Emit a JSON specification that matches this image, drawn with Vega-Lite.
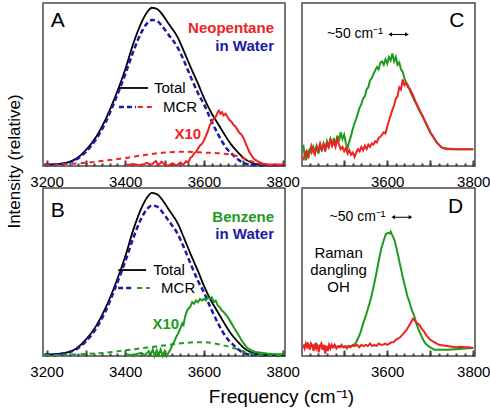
{
"$schema":"https://vega.github.io/schema/vega-lite/v6.json",
"padding":{"left":4,"top":2,"right":0,"bottom":0},
"background":"white",
"bounds":"flush",
"columns":2,
"spacing":{"row":22,"column":17},
"config":{"view":{"stroke":"#4a4a4a","strokeWidth":1.5},"font":"Liberation Sans","axis":{"labelFont":"Liberation Sans","titleFont":"Liberation Sans","grid":false,"domain":false,"ticks":true},"text":{"font":"Liberation Sans"}},
"datasets":{
"W":[
{"x":3195,"s":"t","y":0.01},{"x":3225,"s":"t","y":0.012},{"x":3250,"s":"t","y":0.02},{"x":3275,"s":"t","y":0.045},{"x":3300,"s":"t","y":0.1},{"x":3325,"s":"t","y":0.18},{"x":3350,"s":"t","y":0.295},{"x":3375,"s":"t","y":0.44},{"x":3400,"s":"t","y":0.61},{"x":3420,"s":"t","y":0.77},{"x":3440,"s":"t","y":0.9},{"x":3455,"s":"t","y":0.97},{"x":3468,"s":"t","y":1.0},{"x":3482,"s":"t","y":0.99},{"x":3495,"s":"t","y":0.955},{"x":3510,"s":"t","y":0.9},{"x":3534,"s":"t","y":0.81},{"x":3550,"s":"t","y":0.72},{"x":3567,"s":"t","y":0.62},{"x":3585,"s":"t","y":0.52},{"x":3600,"s":"t","y":0.43},{"x":3618,"s":"t","y":0.34},{"x":3635,"s":"t","y":0.27},{"x":3652,"s":"t","y":0.2},{"x":3668,"s":"t","y":0.14},{"x":3685,"s":"t","y":0.09},{"x":3701,"s":"t","y":0.05},{"x":3720,"s":"t","y":0.022},{"x":3740,"s":"t","y":0.01},{"x":3770,"s":"t","y":0.006},{"x":3805,"s":"t","y":0.005},
{"x":3195,"s":"m","y":0.008},{"x":3225,"s":"m","y":0.01},{"x":3250,"s":"m","y":0.018},{"x":3275,"s":"m","y":0.04},{"x":3300,"s":"m","y":0.09},{"x":3325,"s":"m","y":0.165},{"x":3350,"s":"m","y":0.275},{"x":3375,"s":"m","y":0.42},{"x":3400,"s":"m","y":0.58},{"x":3420,"s":"m","y":0.72},{"x":3440,"s":"m","y":0.84},{"x":3455,"s":"m","y":0.9},{"x":3468,"s":"m","y":0.923},{"x":3482,"s":"m","y":0.915},{"x":3495,"s":"m","y":0.88},{"x":3510,"s":"m","y":0.83},{"x":3534,"s":"m","y":0.745},{"x":3550,"s":"m","y":0.66},{"x":3567,"s":"m","y":0.56},{"x":3585,"s":"m","y":0.46},{"x":3600,"s":"m","y":0.39},{"x":3618,"s":"m","y":0.29},{"x":3636,"s":"m","y":0.2},{"x":3655,"s":"m","y":0.12},{"x":3676,"s":"m","y":0.065},{"x":3700,"s":"m","y":0.02},{"x":3720,"s":"m","y":0.008},{"x":3750,"s":"m","y":0.003},{"x":3805,"s":"m","y":0.003}
],
"A":[
{"x":3195,"s":"c","y":0.008},{"x":3250,"s":"c","y":0.012},{"x":3300,"s":"c","y":0.02},{"x":3350,"s":"c","y":0.035},{"x":3400,"s":"c","y":0.05},{"x":3450,"s":"c","y":0.07},{"x":3500,"s":"c","y":0.085},{"x":3550,"s":"c","y":0.09},{"x":3600,"s":"c","y":0.085},{"x":3650,"s":"c","y":0.078},{"x":3680,"s":"c","y":0.065},{"x":3700,"s":"c","y":0.05},{"x":3720,"s":"c","y":0.03},{"x":3740,"s":"c","y":0.015},{"x":3760,"s":"c","y":0.006},{"x":3805,"s":"c","y":0.002},
{"x":3400,"s":"x","y":0.005},{"x":3420,"s":"x","y":0.012},{"x":3440,"s":"x","y":0.003},{"x":3455,"s":"x","y":0.02},{"x":3465,"s":"x","y":0.006},{"x":3478,"s":"x","y":0.032},{"x":3484,"s":"x","y":0.004},{"x":3492,"s":"x","y":0.028},{"x":3500,"s":"x","y":0.01},{"x":3510,"s":"x","y":0.002},{"x":3520,"s":"x","y":0.018},{"x":3530,"s":"x","y":0.003},{"x":3540,"s":"x","y":0.022},{"x":3548,"s":"x","y":0.008},{"x":3555,"s":"x","y":0.03},{"x":3560,"s":"x","y":0.02},{"x":3565,"s":"x","y":0.05},{"x":3570,"s":"x","y":0.06},{"x":3575,"s":"x","y":0.08},{"x":3580,"s":"x","y":0.09},{"x":3585,"s":"x","y":0.11},{"x":3590,"s":"x","y":0.13},{"x":3595,"s":"x","y":0.14},{"x":3600,"s":"x","y":0.16},{"x":3605,"s":"x","y":0.19},{"x":3610,"s":"x","y":0.22},{"x":3615,"s":"x","y":0.26},{"x":3620,"s":"x","y":0.28},{"x":3625,"s":"x","y":0.3},{"x":3630,"s":"x","y":0.31},{"x":3635,"s":"x","y":0.34},{"x":3638,"s":"x","y":0.35},{"x":3642,"s":"x","y":0.33},{"x":3646,"s":"x","y":0.34},{"x":3650,"s":"x","y":0.32},{"x":3655,"s":"x","y":0.33},{"x":3660,"s":"x","y":0.31},{"x":3665,"s":"x","y":0.29},{"x":3670,"s":"x","y":0.28},{"x":3675,"s":"x","y":0.26},{"x":3680,"s":"x","y":0.25},{"x":3685,"s":"x","y":0.23},{"x":3690,"s":"x","y":0.21},{"x":3695,"s":"x","y":0.2},{"x":3700,"s":"x","y":0.18},{"x":3705,"s":"x","y":0.15},{"x":3710,"s":"x","y":0.12},{"x":3715,"s":"x","y":0.09},{"x":3720,"s":"x","y":0.07},{"x":3725,"s":"x","y":0.05},{"x":3730,"s":"x","y":0.04},{"x":3740,"s":"x","y":0.025},{"x":3750,"s":"x","y":0.015},{"x":3760,"s":"x","y":0.01},{"x":3780,"s":"x","y":0.01},{"x":3805,"s":"x","y":0.01}
],
"B":[
{"x":3195,"s":"c","y":0.005},{"x":3250,"s":"c","y":0.008},{"x":3300,"s":"c","y":0.012},{"x":3350,"s":"c","y":0.02},{"x":3400,"s":"c","y":0.035},{"x":3450,"s":"c","y":0.05},{"x":3500,"s":"c","y":0.065},{"x":3550,"s":"c","y":0.08},{"x":3590,"s":"c","y":0.085},{"x":3620,"s":"c","y":0.08},{"x":3650,"s":"c","y":0.065},{"x":3680,"s":"c","y":0.045},{"x":3710,"s":"c","y":0.02},{"x":3740,"s":"c","y":0.008},{"x":3805,"s":"c","y":0.002},
{"x":3400,"s":"x","y":0.01},{"x":3420,"s":"x","y":0.005},{"x":3440,"s":"x","y":0.02},{"x":3450,"s":"x","y":0.005},{"x":3460,"s":"x","y":0.03},{"x":3465,"s":"x","y":0.01},{"x":3470,"s":"x","y":0.04},{"x":3475,"s":"x","y":0.0},{"x":3480,"s":"x","y":0.035},{"x":3485,"s":"x","y":0.005},{"x":3490,"s":"x","y":0.04},{"x":3495,"s":"x","y":0.0},{"x":3500,"s":"x","y":0.03},{"x":3505,"s":"x","y":0.0},{"x":3510,"s":"x","y":0.02},{"x":3515,"s":"x","y":0.04},{"x":3520,"s":"x","y":0.07},{"x":3525,"s":"x","y":0.09},{"x":3530,"s":"x","y":0.12},{"x":3535,"s":"x","y":0.14},{"x":3540,"s":"x","y":0.17},{"x":3545,"s":"x","y":0.2},{"x":3548,"s":"x","y":0.19},{"x":3552,"s":"x","y":0.24},{"x":3556,"s":"x","y":0.27},{"x":3560,"s":"x","y":0.29},{"x":3565,"s":"x","y":0.3},{"x":3570,"s":"x","y":0.33},{"x":3575,"s":"x","y":0.32},{"x":3580,"s":"x","y":0.34},{"x":3585,"s":"x","y":0.33},{"x":3590,"s":"x","y":0.35},{"x":3595,"s":"x","y":0.34},{"x":3600,"s":"x","y":0.35},{"x":3605,"s":"x","y":0.34},{"x":3610,"s":"x","y":0.36},{"x":3615,"s":"x","y":0.35},{"x":3620,"s":"x","y":0.36},{"x":3625,"s":"x","y":0.33},{"x":3630,"s":"x","y":0.34},{"x":3635,"s":"x","y":0.31},{"x":3640,"s":"x","y":0.3},{"x":3645,"s":"x","y":0.28},{"x":3650,"s":"x","y":0.27},{"x":3660,"s":"x","y":0.24},{"x":3670,"s":"x","y":0.2},{"x":3680,"s":"x","y":0.16},{"x":3690,"s":"x","y":0.12},{"x":3700,"s":"x","y":0.08},{"x":3710,"s":"x","y":0.05},{"x":3720,"s":"x","y":0.035},{"x":3730,"s":"x","y":0.025},{"x":3745,"s":"x","y":0.02},{"x":3760,"s":"x","y":0.015},{"x":3780,"s":"x","y":0.01},{"x":3805,"s":"x","y":0.01}
],
"C":[
{"x":3405,"s":"g","y":0.19},{"x":3408,"s":"g","y":0.1},{"x":3411,"s":"g","y":0.05},{"x":3414,"s":"g","y":0.14},{"x":3417,"s":"g","y":0.07},{"x":3420,"s":"g","y":0.16},{"x":3424,"s":"g","y":0.12},{"x":3428,"s":"g","y":0.17},{"x":3432,"s":"g","y":0.13},{"x":3436,"s":"g","y":0.18},{"x":3440,"s":"g","y":0.11},{"x":3444,"s":"g","y":0.17},{"x":3448,"s":"g","y":0.14},{"x":3452,"s":"g","y":0.2},{"x":3456,"s":"g","y":0.15},{"x":3460,"s":"g","y":0.22},{"x":3464,"s":"g","y":0.17},{"x":3468,"s":"g","y":0.24},{"x":3472,"s":"g","y":0.19},{"x":3476,"s":"g","y":0.25},{"x":3480,"s":"g","y":0.18},{"x":3484,"s":"g","y":0.27},{"x":3488,"s":"g","y":0.22},{"x":3492,"s":"g","y":0.3},{"x":3496,"s":"g","y":0.24},{"x":3500,"s":"g","y":0.28},{"x":3504,"s":"g","y":0.2},{"x":3508,"s":"g","y":0.16},{"x":3512,"s":"g","y":0.22},{"x":3516,"s":"g","y":0.27},{"x":3520,"s":"g","y":0.33},{"x":3524,"s":"g","y":0.38},{"x":3528,"s":"g","y":0.42},{"x":3532,"s":"g","y":0.47},{"x":3536,"s":"g","y":0.52},{"x":3540,"s":"g","y":0.55},{"x":3544,"s":"g","y":0.6},{"x":3548,"s":"g","y":0.62},{"x":3552,"s":"g","y":0.68},{"x":3556,"s":"g","y":0.7},{"x":3560,"s":"g","y":0.76},{"x":3564,"s":"g","y":0.78},{"x":3568,"s":"g","y":0.82},{"x":3572,"s":"g","y":0.85},{"x":3576,"s":"g","y":0.88},{"x":3580,"s":"g","y":0.86},{"x":3584,"s":"g","y":0.92},{"x":3588,"s":"g","y":0.93},{"x":3592,"s":"g","y":0.9},{"x":3596,"s":"g","y":0.95},{"x":3600,"s":"g","y":0.91},{"x":3604,"s":"g","y":0.97},{"x":3608,"s":"g","y":0.94},{"x":3612,"s":"g","y":1.0},{"x":3616,"s":"g","y":0.93},{"x":3620,"s":"g","y":0.97},{"x":3624,"s":"g","y":0.9},{"x":3628,"s":"g","y":0.92},{"x":3632,"s":"g","y":0.86},{"x":3636,"s":"g","y":0.84},{"x":3640,"s":"g","y":0.78},{"x":3644,"s":"g","y":0.74},{"x":3648,"s":"g","y":0.72},{"x":3652,"s":"g","y":0.68},{"x":3656,"s":"g","y":0.64},{"x":3660,"s":"g","y":0.61},{"x":3665,"s":"g","y":0.57},{"x":3670,"s":"g","y":0.53},{"x":3675,"s":"g","y":0.49},{"x":3680,"s":"g","y":0.46},{"x":3685,"s":"g","y":0.42},{"x":3690,"s":"g","y":0.38},{"x":3695,"s":"g","y":0.34},{"x":3700,"s":"g","y":0.3},{"x":3705,"s":"g","y":0.27},{"x":3710,"s":"g","y":0.24},{"x":3715,"s":"g","y":0.21},{"x":3720,"s":"g","y":0.19},{"x":3725,"s":"g","y":0.17},{"x":3730,"s":"g","y":0.16},{"x":3740,"s":"g","y":0.155},{"x":3760,"s":"g","y":0.15},{"x":3780,"s":"g","y":0.15},{"x":3800,"s":"g","y":0.15},
{"x":3405,"s":"r","y":0.05},{"x":3408,"s":"r","y":0.09},{"x":3412,"s":"r","y":0.13},{"x":3416,"s":"r","y":0.08},{"x":3420,"s":"r","y":0.12},{"x":3424,"s":"r","y":0.18},{"x":3428,"s":"r","y":0.13},{"x":3432,"s":"r","y":0.1},{"x":3436,"s":"r","y":0.17},{"x":3440,"s":"r","y":0.14},{"x":3444,"s":"r","y":0.2},{"x":3448,"s":"r","y":0.15},{"x":3452,"s":"r","y":0.19},{"x":3456,"s":"r","y":0.13},{"x":3460,"s":"r","y":0.21},{"x":3464,"s":"r","y":0.16},{"x":3468,"s":"r","y":0.24},{"x":3472,"s":"r","y":0.18},{"x":3476,"s":"r","y":0.22},{"x":3480,"s":"r","y":0.17},{"x":3484,"s":"r","y":0.24},{"x":3488,"s":"r","y":0.19},{"x":3492,"s":"r","y":0.15},{"x":3496,"s":"r","y":0.17},{"x":3500,"s":"r","y":0.13},{"x":3504,"s":"r","y":0.16},{"x":3508,"s":"r","y":0.11},{"x":3512,"s":"r","y":0.14},{"x":3516,"s":"r","y":0.1},{"x":3520,"s":"r","y":0.12},{"x":3524,"s":"r","y":0.08},{"x":3528,"s":"r","y":0.12},{"x":3532,"s":"r","y":0.15},{"x":3536,"s":"r","y":0.13},{"x":3540,"s":"r","y":0.17},{"x":3544,"s":"r","y":0.14},{"x":3548,"s":"r","y":0.18},{"x":3552,"s":"r","y":0.15},{"x":3556,"s":"r","y":0.19},{"x":3560,"s":"r","y":0.17},{"x":3564,"s":"r","y":0.2},{"x":3568,"s":"r","y":0.19},{"x":3572,"s":"r","y":0.22},{"x":3576,"s":"r","y":0.21},{"x":3580,"s":"r","y":0.25},{"x":3584,"s":"r","y":0.26},{"x":3588,"s":"r","y":0.28},{"x":3592,"s":"r","y":0.3},{"x":3596,"s":"r","y":0.29},{"x":3600,"s":"r","y":0.35},{"x":3604,"s":"r","y":0.4},{"x":3608,"s":"r","y":0.45},{"x":3612,"s":"r","y":0.5},{"x":3616,"s":"r","y":0.54},{"x":3620,"s":"r","y":0.6},{"x":3624,"s":"r","y":0.62},{"x":3628,"s":"r","y":0.7},{"x":3632,"s":"r","y":0.68},{"x":3636,"s":"r","y":0.77},{"x":3640,"s":"r","y":0.72},{"x":3644,"s":"r","y":0.74},{"x":3648,"s":"r","y":0.7},{"x":3652,"s":"r","y":0.69},{"x":3656,"s":"r","y":0.66},{"x":3660,"s":"r","y":0.63},{"x":3665,"s":"r","y":0.58},{"x":3670,"s":"r","y":0.54},{"x":3675,"s":"r","y":0.5},{"x":3680,"s":"r","y":0.46},{"x":3685,"s":"r","y":0.42},{"x":3690,"s":"r","y":0.38},{"x":3695,"s":"r","y":0.34},{"x":3700,"s":"r","y":0.3},{"x":3705,"s":"r","y":0.27},{"x":3710,"s":"r","y":0.24},{"x":3715,"s":"r","y":0.21},{"x":3720,"s":"r","y":0.19},{"x":3725,"s":"r","y":0.17},{"x":3730,"s":"r","y":0.16},{"x":3740,"s":"r","y":0.15},{"x":3760,"s":"r","y":0.15},{"x":3780,"s":"r","y":0.15},{"x":3800,"s":"r","y":0.15}
],
"D":[
{"x":3405,"s":"g","y":0.09},{"x":3410,"s":"g","y":0.08},{"x":3415,"s":"g","y":0.1},{"x":3420,"s":"g","y":0.07},{"x":3425,"s":"g","y":0.09},{"x":3430,"s":"g","y":0.08},{"x":3435,"s":"g","y":0.1},{"x":3440,"s":"g","y":0.07},{"x":3445,"s":"g","y":0.09},{"x":3450,"s":"g","y":0.06},{"x":3455,"s":"g","y":0.08},{"x":3460,"s":"g","y":0.07},{"x":3470,"s":"g","y":0.08},{"x":3480,"s":"g","y":0.07},{"x":3490,"s":"g","y":0.08},{"x":3500,"s":"g","y":0.07},{"x":3510,"s":"g","y":0.08},{"x":3520,"s":"g","y":0.08},{"x":3526,"s":"g","y":0.1},{"x":3532,"s":"g","y":0.14},{"x":3538,"s":"g","y":0.19},{"x":3544,"s":"g","y":0.26},{"x":3550,"s":"g","y":0.32},{"x":3556,"s":"g","y":0.39},{"x":3562,"s":"g","y":0.46},{"x":3568,"s":"g","y":0.55},{"x":3574,"s":"g","y":0.65},{"x":3580,"s":"g","y":0.76},{"x":3586,"s":"g","y":0.86},{"x":3592,"s":"g","y":0.93},{"x":3597,"s":"g","y":0.98},{"x":3602,"s":"g","y":0.99},{"x":3606,"s":"g","y":0.985},{"x":3608,"s":"g","y":1.0},{"x":3612,"s":"g","y":0.97},{"x":3617,"s":"g","y":0.93},{"x":3622,"s":"g","y":0.86},{"x":3627,"s":"g","y":0.78},{"x":3632,"s":"g","y":0.7},{"x":3637,"s":"g","y":0.62},{"x":3642,"s":"g","y":0.55},{"x":3647,"s":"g","y":0.48},{"x":3652,"s":"g","y":0.43},{"x":3657,"s":"g","y":0.37},{"x":3662,"s":"g","y":0.33},{"x":3667,"s":"g","y":0.27},{"x":3672,"s":"g","y":0.22},{"x":3677,"s":"g","y":0.18},{"x":3682,"s":"g","y":0.14},{"x":3687,"s":"g","y":0.11},{"x":3692,"s":"g","y":0.09},{"x":3700,"s":"g","y":0.07},{"x":3710,"s":"g","y":0.05},{"x":3720,"s":"g","y":0.05},{"x":3740,"s":"g","y":0.05},{"x":3760,"s":"g","y":0.055},{"x":3780,"s":"g","y":0.06},{"x":3800,"s":"g","y":0.065},
{"x":3405,"s":"r","y":0.09},{"x":3408,"s":"r","y":0.06},{"x":3411,"s":"r","y":0.1},{"x":3414,"s":"r","y":0.07},{"x":3417,"s":"r","y":0.09},{"x":3420,"s":"r","y":0.05},{"x":3423,"s":"r","y":0.1},{"x":3426,"s":"r","y":0.08},{"x":3429,"s":"r","y":0.04},{"x":3432,"s":"r","y":0.1},{"x":3435,"s":"r","y":0.06},{"x":3438,"s":"r","y":0.09},{"x":3441,"s":"r","y":0.03},{"x":3444,"s":"r","y":0.08},{"x":3447,"s":"r","y":0.1},{"x":3450,"s":"r","y":0.05},{"x":3453,"s":"r","y":0.09},{"x":3456,"s":"r","y":0.02},{"x":3459,"s":"r","y":0.08},{"x":3462,"s":"r","y":0.04},{"x":3465,"s":"r","y":0.09},{"x":3468,"s":"r","y":0.06},{"x":3471,"s":"r","y":0.09},{"x":3474,"s":"r","y":0.07},{"x":3478,"s":"r","y":0.09},{"x":3482,"s":"r","y":0.06},{"x":3486,"s":"r","y":0.08},{"x":3490,"s":"r","y":0.07},{"x":3494,"s":"r","y":0.09},{"x":3498,"s":"r","y":0.07},{"x":3502,"s":"r","y":0.08},{"x":3506,"s":"r","y":0.06},{"x":3510,"s":"r","y":0.08},{"x":3515,"s":"r","y":0.07},{"x":3520,"s":"r","y":0.09},{"x":3525,"s":"r","y":0.08},{"x":3530,"s":"r","y":0.09},{"x":3535,"s":"r","y":0.07},{"x":3540,"s":"r","y":0.09},{"x":3545,"s":"r","y":0.08},{"x":3550,"s":"r","y":0.09},{"x":3555,"s":"r","y":0.08},{"x":3560,"s":"r","y":0.1},{"x":3565,"s":"r","y":0.08},{"x":3570,"s":"r","y":0.09},{"x":3575,"s":"r","y":0.08},{"x":3580,"s":"r","y":0.1},{"x":3585,"s":"r","y":0.09},{"x":3590,"s":"r","y":0.09},{"x":3595,"s":"r","y":0.1},{"x":3600,"s":"r","y":0.09},{"x":3605,"s":"r","y":0.1},{"x":3610,"s":"r","y":0.11},{"x":3615,"s":"r","y":0.11},{"x":3620,"s":"r","y":0.13},{"x":3625,"s":"r","y":0.14},{"x":3630,"s":"r","y":0.15},{"x":3635,"s":"r","y":0.17},{"x":3640,"s":"r","y":0.19},{"x":3645,"s":"r","y":0.21},{"x":3650,"s":"r","y":0.24},{"x":3655,"s":"r","y":0.27},{"x":3660,"s":"r","y":0.3},{"x":3663,"s":"r","y":0.29},{"x":3667,"s":"r","y":0.27},{"x":3671,"s":"r","y":0.26},{"x":3675,"s":"r","y":0.25},{"x":3680,"s":"r","y":0.22},{"x":3685,"s":"r","y":0.2},{"x":3690,"s":"r","y":0.17},{"x":3695,"s":"r","y":0.15},{"x":3700,"s":"r","y":0.13},{"x":3710,"s":"r","y":0.11},{"x":3720,"s":"r","y":0.09},{"x":3730,"s":"r","y":0.085},{"x":3740,"s":"r","y":0.08},{"x":3750,"s":"r","y":0.075},{"x":3760,"s":"r","y":0.07},{"x":3770,"s":"r","y":0.075},{"x":3780,"s":"r","y":0.07},{"x":3790,"s":"r","y":0.07},{"x":3800,"s":"r","y":0.065}
],
"nA":[
{"k":"L","x":3211,"y":0.916,"t":"A"},{"k":"R","x":3778,"y":0.872,"t":"Neopentane"},{"k":"W","x":3778,"y":0.758,"t":"in Water"},{"k":"X","x":3593,"y":0.202,"t":"X10"},{"k":"T","x":3473,"y":0.493,"t":"Total"},{"k":"T","x":3496,"y":0.373,"t":"MCR"}
],
"gA":[
{"k":"t","x":3384,"x2":3458,"y":0.493},{"k":"b","x":3384,"x2":3427,"y":0.373},{"k":"c","x":3432,"x2":3471,"y":0.373}
],
"nB":[
{"k":"L","x":3211,"y":0.889,"t":"B"},{"k":"R","x":3778,"y":0.852,"t":"Benzene"},{"k":"W","x":3778,"y":0.748,"t":"in Water"},{"k":"X","x":3537,"y":0.196,"t":"X10"},{"k":"T","x":3471,"y":0.527,"t":"Total"},{"k":"T","x":3491,"y":0.417,"t":"MCR"}
],
"gB":[
{"k":"t","x":3382,"x2":3453,"y":0.527},{"k":"b","x":3382,"x2":3422,"y":0.417},{"k":"c","x":3430,"x2":3462,"y":0.417}
],
"nC":[
{"k":"L","x":3744,"y":1.29,"t":"C"},{"k":"S","x":3590,"y":1.174,"t":"~50 cm⁻¹"}
],
"aC":[{"x":3607,"x2":3646,"y":1.17}],
"vC":[{"x":3600},{"x":3650}],
"nD":[
{"k":"L","x":3741,"y":1.2,"t":"D"},{"k":"S","x":3596,"y":1.117,"t":"~50 cm⁻¹"},{"k":"M","x":3487,"y":0.828,"t":"Raman"},{"k":"M","x":3487,"y":0.691,"t":"dangling"},{"k":"M","x":3487,"y":0.555,"t":"OH"}
],
"aD":[{"x":3614,"x2":3654,"y":1.115}],
"vD":[{"x":3608},{"x":3657}]
},
"concat":[
{
"width":242,"height":163,
"encoding":{
"x":{"field":"x","type":"quantitative","scale":{"domain":[3191,3806],"nice":false,"zero":false},"axis":null},
"y":{"field":"y","type":"quantitative","scale":{"domain":[0,1.03],"nice":false,"zero":false},"axis":{"title":"Intensity (relative)","labels":false,"ticks":false,"domain":false,"grid":false,"titleFontSize":17,"titleFontWeight":"normal","titleColor":"#000","titleX":-29,"titleY":158,"titleBaseline":"middle"}}
},
"layer":[
{"data":{"name":"W"},"transform":[{"filter":"datum.s=='t'"}],"mark":{"type":"line","color":"#000","strokeWidth":1.8,"interpolate":"monotone"},
"encoding":{"x":{"field":"x","type":"quantitative","scale":{"domain":[3191,3806],"nice":false,"zero":false},"axis":{"orient":"bottom","offset":-6,"values":[3200,3300,3400,3500,3600,3700,3800],"format":"d","labelExpr":"datum.value % 200 == 0 ? datum.label : ''","ticks":true,"tickSize":6,"tickColor":"#444","tickWidth":2,"labelPadding":8,"labelFontSize":15,"labelColor":"black","labelFlush":false,"labelOverlap":false,"domain":false,"grid":false,"title":null}}}},
{"data":{"name":"W"},"transform":[{"filter":"datum.s=='m'"}],"mark":{"type":"line","color":"#1a1aa6","strokeWidth":2.5,"strokeDash":[5,3],"interpolate":"monotone"},
"encoding":{"x":{"field":"x","type":"quantitative","scale":{"domain":[3191,3806],"nice":false,"zero":false},"axis":{"orient":"bottom","offset":-3,"values":[3200,3220,3240,3260,3280,3300,3320,3340,3360,3380,3400,3420,3440,3460,3480,3500,3520,3540,3560,3580,3600,3620,3640,3660,3680,3700,3720,3740,3760,3780,3800],"ticks":true,"tickSize":3,"tickColor":"#444","tickWidth":2,"labels":false,"domain":false,"grid":false,"title":null}}}},
{"data":{"name":"A"},"transform":[{"filter":"datum.s=='c'"}],"mark":{"type":"line","color":"#ee2222","strokeWidth":2,"strokeDash":[5,4],"interpolate":"monotone"}},
{"data":{"name":"A"},"transform":[{"filter":"datum.s=='x'"}],"mark":{"type":"line","color":"#ee2222","strokeWidth":2}},
{"data":{"name":"gA"},"transform":[{"filter":"datum.k=='t'"}],"mark":{"type":"rule","color":"#000","strokeWidth":1.8},"encoding":{"x2":{"field":"x2"}}},
{"data":{"name":"gA"},"transform":[{"filter":"datum.k=='b'"}],"mark":{"type":"rule","color":"#1a1aa6","strokeWidth":2.5,"strokeDash":[5,3]},"encoding":{"x2":{"field":"x2"}}},
{"data":{"name":"gA"},"transform":[{"filter":"datum.k=='c'"}],"mark":{"type":"rule","color":"#ee2222","strokeWidth":2,"strokeDash":[5,4]},"encoding":{"x2":{"field":"x2"}}},
{"data":{"name":"nA"},"transform":[{"filter":"datum.k=='L'"}],"mark":{"type":"text","fontSize":21,"align":"left","baseline":"middle","color":"#000"},"encoding":{"text":{"field":"t"}}},
{"data":{"name":"nA"},"transform":[{"filter":"datum.k=='R' || datum.k=='X'"}],"mark":{"type":"text","fontSize":15,"fontWeight":"bold","align":"right","baseline":"middle","color":"#ee2222"},"encoding":{"text":{"field":"t"}}},
{"data":{"name":"nA"},"transform":[{"filter":"datum.k=='W'"}],"mark":{"type":"text","fontSize":15,"fontWeight":"bold","align":"right","baseline":"middle","color":"#1a1aa6"},"encoding":{"text":{"field":"t"}}},
{"data":{"name":"nA"},"transform":[{"filter":"datum.k=='T'"}],"mark":{"type":"text","fontSize":15,"align":"left","baseline":"middle","color":"#000"},"encoding":{"text":{"field":"t"}}}
],
"resolve":{"axis":{"x":"independent"}}
},
{
"width":173,"height":163,
"encoding":{
"x":{"field":"x","type":"quantitative","scale":{"domain":[3402,3804],"nice":false,"zero":false},"axis":null},
"y":{"field":"y","type":"quantitative","scale":{"domain":[0,1.45],"nice":false,"zero":false},"axis":null}
},
"layer":[
{"data":{"name":"vC"},"mark":{"type":"rule","color":"#222","strokeWidth":1.2,"strokeDash":[4,3]},"encoding":{"y":{"datum":0},"y2":{"datum":1.45},
"x":{"field":"x","type":"quantitative","scale":{"domain":[3402,3804],"nice":false,"zero":false},"axis":{"orient":"bottom","offset":-6,"values":[3500,3600,3700,3800],"format":"d","labelExpr":"datum.value % 200 == 0 ? datum.label : ''","ticks":true,"tickSize":6,"tickColor":"#444","tickWidth":2,"labelPadding":8,"labelFontSize":15,"labelColor":"black","labelFlush":false,"labelOverlap":false,"domain":false,"grid":false,"title":null}}}},
{"data":{"name":"C"},"transform":[{"filter":"datum.s=='g'"}],"mark":{"type":"line","color":"#1e9a1e","strokeWidth":2},
"encoding":{"x":{"field":"x","type":"quantitative","scale":{"domain":[3402,3804],"nice":false,"zero":false},"axis":{"orient":"bottom","offset":-3,"values":[3420,3440,3460,3480,3500,3520,3540,3560,3580,3600,3620,3640,3660,3680,3700,3720,3740,3760,3780,3800],"ticks":true,"tickSize":3,"tickColor":"#444","tickWidth":2,"labels":false,"domain":false,"grid":false,"title":null}}}},
{"data":{"name":"C"},"transform":[{"filter":"datum.s=='r'"}],"mark":{"type":"line","color":"#ee2222","strokeWidth":2}},
{"data":{"name":"aC"},"mark":{"type":"rule","color":"#000","strokeWidth":1},"encoding":{"x2":{"field":"x2"}}},
{"data":{"name":"aC"},"mark":{"type":"point","shape":"triangle-left","filled":true,"size":18,"color":"#000","opacity":1}},
{"data":{"name":"aC"},"mark":{"type":"point","shape":"triangle-right","filled":true,"size":18,"color":"#000","opacity":1},"encoding":{"x":{"field":"x2","type":"quantitative"}}},
{"data":{"name":"nC"},"transform":[{"filter":"datum.k=='L'"}],"mark":{"type":"text","fontSize":21,"align":"left","baseline":"middle","color":"#000"},"encoding":{"text":{"field":"t"}}},
{"data":{"name":"nC"},"transform":[{"filter":"datum.k=='S'"}],"mark":{"type":"text","fontSize":14,"align":"right","baseline":"middle","color":"#000"},"encoding":{"text":{"field":"t"}}}
],
"resolve":{"axis":{"x":"independent"}}
},
{
"width":242,"height":168,
"encoding":{
"x":{"field":"x","type":"quantitative","scale":{"domain":[3191,3806],"nice":false,"zero":false},"axis":null},
"y":{"field":"y","type":"quantitative","scale":{"domain":[0,1.03],"nice":false,"zero":false},"axis":null}
},
"layer":[
{"data":{"name":"W"},"transform":[{"filter":"datum.s=='t'"}],"mark":{"type":"line","color":"#000","strokeWidth":1.8,"interpolate":"monotone"},
"encoding":{"x":{"field":"x","type":"quantitative","scale":{"domain":[3191,3806],"nice":false,"zero":false},"axis":{"orient":"bottom","offset":-6,"values":[3200,3300,3400,3500,3600,3700,3800],"format":"d","labelExpr":"datum.value % 200 == 0 ? datum.label : ''","ticks":true,"tickSize":6,"tickColor":"#444","tickWidth":2,"labelPadding":8,"labelFontSize":15,"labelColor":"black","labelFlush":false,"labelOverlap":false,"domain":false,"grid":false,"title":"Frequency (cm⁻¹)","titleFontSize":19,"titleFontWeight":"normal","titleColor":"black","titleX":238,"titleY":46,"titleBaseline":"middle"}}}},
{"data":{"name":"W"},"transform":[{"filter":"datum.s=='m'"}],"mark":{"type":"line","color":"#1a1aa6","strokeWidth":2.5,"strokeDash":[5,3],"interpolate":"monotone"},
"encoding":{"x":{"field":"x","type":"quantitative","scale":{"domain":[3191,3806],"nice":false,"zero":false},"axis":{"orient":"bottom","offset":-3,"values":[3200,3220,3240,3260,3280,3300,3320,3340,3360,3380,3400,3420,3440,3460,3480,3500,3520,3540,3560,3580,3600,3620,3640,3660,3680,3700,3720,3740,3760,3780,3800],"ticks":true,"tickSize":3,"tickColor":"#444","tickWidth":2,"labels":false,"domain":false,"grid":false,"title":null}}}},
{"data":{"name":"B"},"transform":[{"filter":"datum.s=='c'"}],"mark":{"type":"line","color":"#1e9a1e","strokeWidth":2,"strokeDash":[5,4],"interpolate":"monotone"}},
{"data":{"name":"B"},"transform":[{"filter":"datum.s=='x'"}],"mark":{"type":"line","color":"#1e9a1e","strokeWidth":2}},
{"data":{"name":"gB"},"transform":[{"filter":"datum.k=='t'"}],"mark":{"type":"rule","color":"#000","strokeWidth":1.8},"encoding":{"x2":{"field":"x2"}}},
{"data":{"name":"gB"},"transform":[{"filter":"datum.k=='b'"}],"mark":{"type":"rule","color":"#1a1aa6","strokeWidth":2.5,"strokeDash":[5,3]},"encoding":{"x2":{"field":"x2"}}},
{"data":{"name":"gB"},"transform":[{"filter":"datum.k=='c'"}],"mark":{"type":"rule","color":"#1e9a1e","strokeWidth":2,"strokeDash":[5,4]},"encoding":{"x2":{"field":"x2"}}},
{"data":{"name":"nB"},"transform":[{"filter":"datum.k=='L'"}],"mark":{"type":"text","fontSize":21,"align":"left","baseline":"middle","color":"#000"},"encoding":{"text":{"field":"t"}}},
{"data":{"name":"nB"},"transform":[{"filter":"datum.k=='R' || datum.k=='X'"}],"mark":{"type":"text","fontSize":15,"fontWeight":"bold","align":"right","baseline":"middle","color":"#1e9a1e"},"encoding":{"text":{"field":"t"}}},
{"data":{"name":"nB"},"transform":[{"filter":"datum.k=='W'"}],"mark":{"type":"text","fontSize":15,"fontWeight":"bold","align":"right","baseline":"middle","color":"#1a1aa6"},"encoding":{"text":{"field":"t"}}},
{"data":{"name":"nB"},"transform":[{"filter":"datum.k=='T'"}],"mark":{"type":"text","fontSize":15,"align":"left","baseline":"middle","color":"#000"},"encoding":{"text":{"field":"t"}}}
],
"resolve":{"axis":{"x":"independent"}}
},
{
"width":173,"height":168,
"encoding":{
"x":{"field":"x","type":"quantitative","scale":{"domain":[3402,3804],"nice":false,"zero":false},"axis":null},
"y":{"field":"y","type":"quantitative","scale":{"domain":[0,1.35],"nice":false,"zero":false},"axis":null}
},
"layer":[
{"data":{"name":"vD"},"mark":{"type":"rule","color":"#222","strokeWidth":1.2,"strokeDash":[4,3]},"encoding":{"y":{"datum":0},"y2":{"datum":1.35},
"x":{"field":"x","type":"quantitative","scale":{"domain":[3402,3804],"nice":false,"zero":false},"axis":{"orient":"bottom","offset":-6,"values":[3500,3600,3700,3800],"format":"d","labelExpr":"datum.value % 200 == 0 ? datum.label : ''","ticks":true,"tickSize":6,"tickColor":"#444","tickWidth":2,"labelPadding":8,"labelFontSize":15,"labelColor":"black","labelFlush":false,"labelOverlap":false,"domain":false,"grid":false,"title":null}}}},
{"data":{"name":"D"},"transform":[{"filter":"datum.s=='g'"}],"mark":{"type":"line","color":"#1e9a1e","strokeWidth":2},
"encoding":{"x":{"field":"x","type":"quantitative","scale":{"domain":[3402,3804],"nice":false,"zero":false},"axis":{"orient":"bottom","offset":-3,"values":[3420,3440,3460,3480,3500,3520,3540,3560,3580,3600,3620,3640,3660,3680,3700,3720,3740,3760,3780,3800],"ticks":true,"tickSize":3,"tickColor":"#444","tickWidth":2,"labels":false,"domain":false,"grid":false,"title":null}}}},
{"data":{"name":"D"},"transform":[{"filter":"datum.s=='r'"}],"mark":{"type":"line","color":"#ee2222","strokeWidth":2}},
{"data":{"name":"aD"},"mark":{"type":"rule","color":"#000","strokeWidth":1},"encoding":{"x2":{"field":"x2"}}},
{"data":{"name":"aD"},"mark":{"type":"point","shape":"triangle-left","filled":true,"size":18,"color":"#000","opacity":1}},
{"data":{"name":"aD"},"mark":{"type":"point","shape":"triangle-right","filled":true,"size":18,"color":"#000","opacity":1},"encoding":{"x":{"field":"x2","type":"quantitative"}}},
{"data":{"name":"nD"},"transform":[{"filter":"datum.k=='L'"}],"mark":{"type":"text","fontSize":21,"align":"left","baseline":"middle","color":"#000"},"encoding":{"text":{"field":"t"}}},
{"data":{"name":"nD"},"transform":[{"filter":"datum.k=='S'"}],"mark":{"type":"text","fontSize":14,"align":"right","baseline":"middle","color":"#000"},"encoding":{"text":{"field":"t"}}},
{"data":{"name":"nD"},"transform":[{"filter":"datum.k=='M'"}],"mark":{"type":"text","fontSize":15,"align":"center","baseline":"middle","color":"#000"},"encoding":{"text":{"field":"t"}}}
],
"resolve":{"axis":{"x":"independent"}}
}
]
}
